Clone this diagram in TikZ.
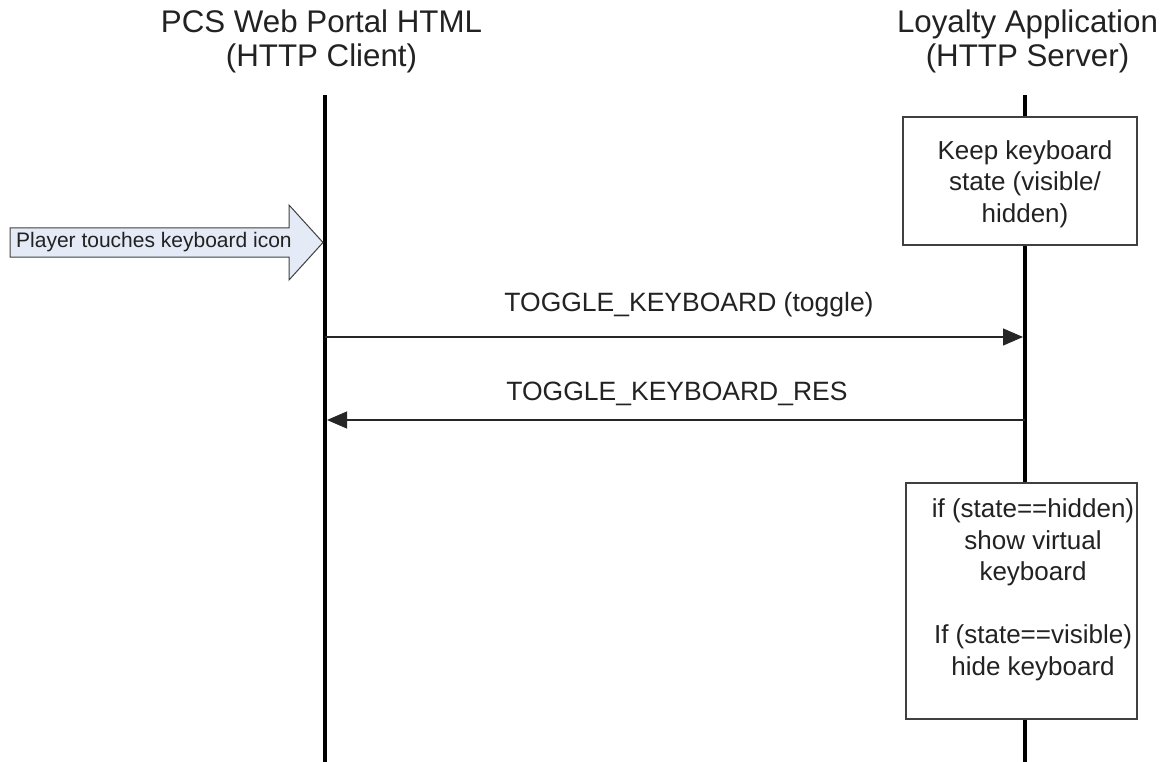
\documentclass[tikz,border=0pt]{standalone}
\usepackage{fontspec}
\setmainfont{Liberation Sans}
\usetikzlibrary{arrows.meta}
\definecolor{txt}{HTML}{222222}
\definecolor{boxedge}{HTML}{404040}
\definecolor{arrowfill}{HTML}{E4EAF6}
\begin{document}
\begin{tikzpicture}[x=1pt,y=-1pt,
  title/.style={font=\fontsize{31.3}{34}\selectfont, text=txt, align=center},
  lifeline/.style={line width=3.5pt, black},
  actbox/.style={draw=boxedge, line width=1.3pt, fill=white, inner sep=0pt},
  acttext/.style={align=center, text=txt, font=\fontsize{26}{31.5}\selectfont, inner sep=0pt},
  msg/.style={line width=1.2pt, draw=black!85, -{Triangle[length=20pt,width=17pt]}},
  msglabel/.style={font=\fontsize{26.5}{30}\selectfont, text=txt}
]
\useasboundingbox (0,0) rectangle (1167,762);

% titles
\node[title] (t1) at (321.5,41.5) {PCS Web Portal HTML\\(HTTP Client)};
\node[title] (t2) at (1027.5,41.5) {Loyalty Application\\(HTTP Server)};

% lifelines
\coordinate (l1top) at (325,95);
\coordinate (l1bot) at (325,762);
\coordinate (l2top) at (1025,95);
\coordinate (l2bot) at (1025,762);
\draw[lifeline] (l1top) -- (l1bot);
\draw[lifeline] (l2top) -- (l2bot);

% activity boxes
\node[actbox, minimum width=234pt, minimum height=128pt] (b1) at (1020,181) {};
\node[acttext] (b1text) at (1025,184) {Keep keyboard\\state (visible/\\hidden)};
\node[actbox, minimum width=231pt, minimum height=236pt] (b2) at (1021.5,601) {};
\node[acttext] (b2text) at (1033,590) {if (state==hidden)\\show virtual\\keyboard\\[31.5pt]If (state==visible)\\hide keyboard};

% block arrow
\draw[line width=1pt, draw=black!75, fill=arrowfill]
  (10,228) -- (289,228) -- (289,205) -- (323,242.5) -- (289,280) -- (289,257) -- (10,257) -- cycle;
\node[font=\fontsize{21}{24}\selectfont, text=txt, anchor=west, inner sep=0pt] (ev) at (16,242.5) {Player touches keyboard icon};

% messages
\coordinate (m1s) at (325,337);
\coordinate (m1e) at (1023,337);
\coordinate (m2s) at (1025,420);
\coordinate (m2e) at (327,420);
\draw[msg] (m1s) -- (m1e);
\draw[msg] (m2s) -- (m2e);
\node[msglabel] (lab1) at (689,305) {TOGGLE\_KEYBOARD (toggle)};
\node[msglabel] (lab2) at (677,394) {TOGGLE\_KEYBOARD\_RES};
\end{tikzpicture}
\end{document}
